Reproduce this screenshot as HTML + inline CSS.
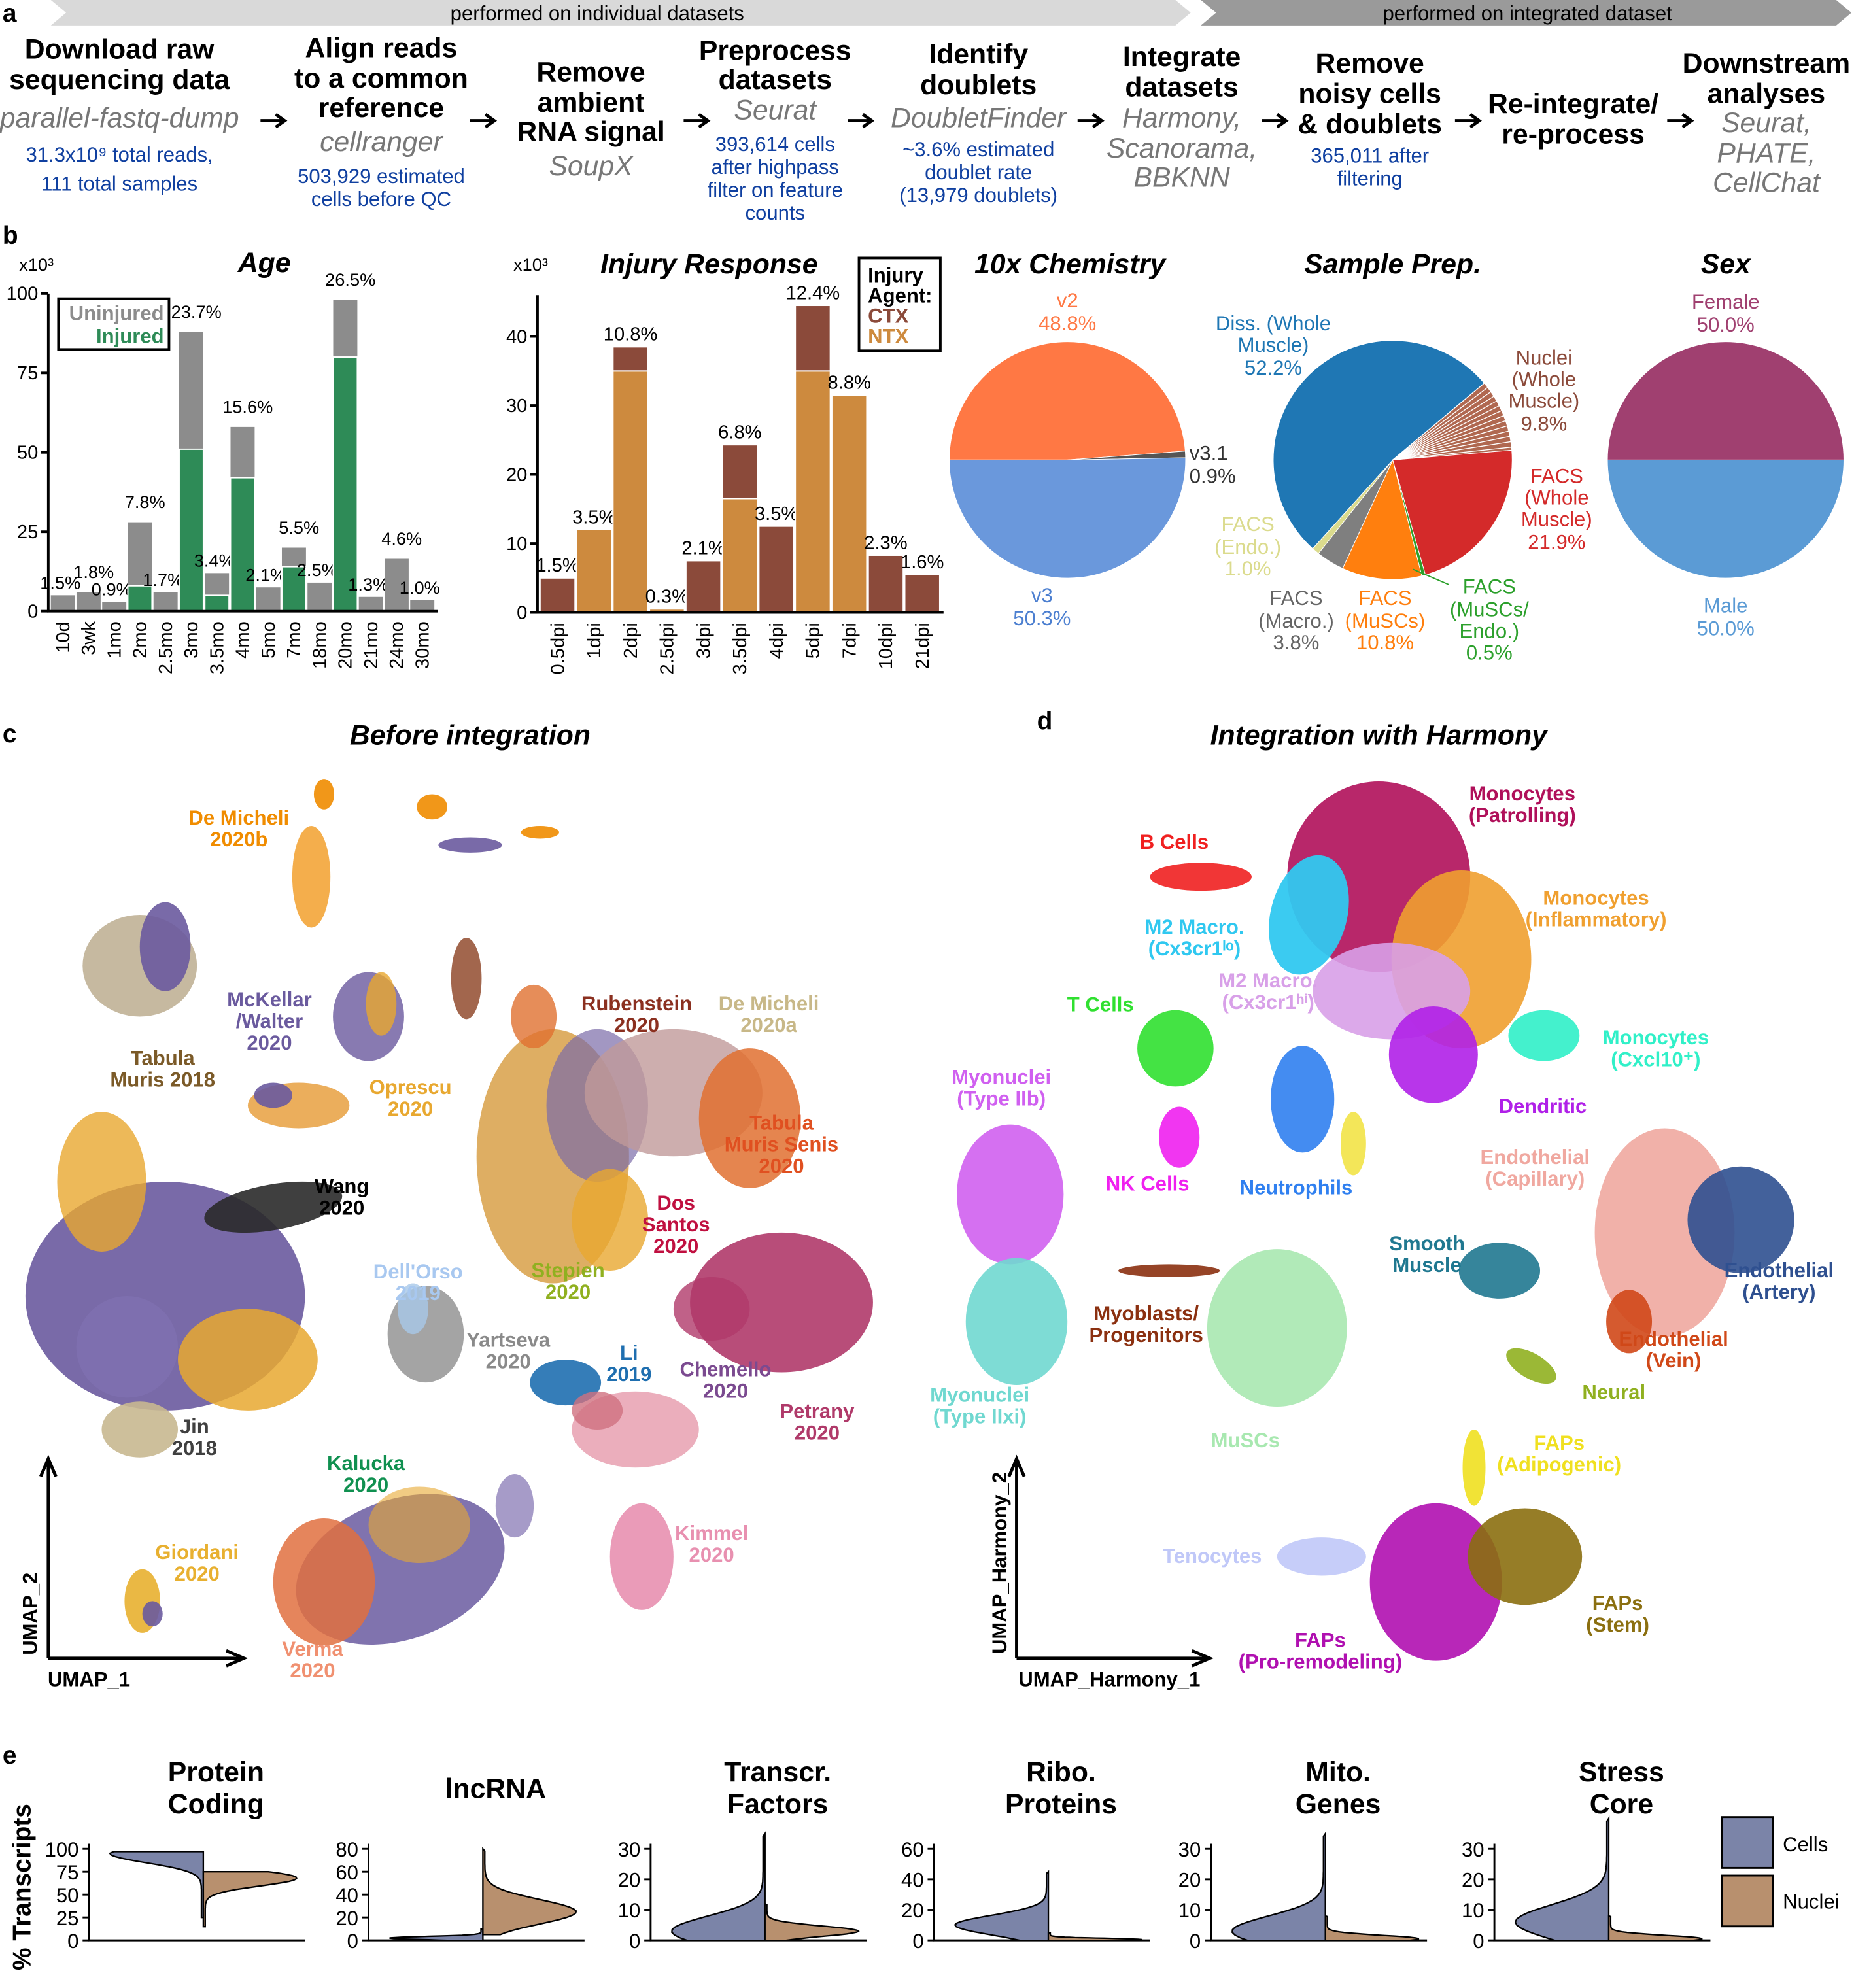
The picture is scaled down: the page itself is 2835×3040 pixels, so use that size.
<!DOCTYPE html>
<html><head><meta charset="utf-8"><style>
html,body{margin:0;padding:0;background:#fff}
svg{display:block}
text{font-family:"Liberation Sans",sans-serif}
.b{font-weight:bold}
.st{font-size:22px;font-weight:bold;text-anchor:middle;fill:#000}
.tool{font-size:22px;font-style:italic;text-anchor:middle;fill:#777}
.blu{font-size:16px;text-anchor:middle;fill:#1040A0}
.tt{font-size:22px;font-weight:bold;font-style:italic;text-anchor:middle}
.lab{font-size:16px}
.cl{font-size:16px;font-weight:bold;text-anchor:middle}
.tick{font-size:16px}
</style></head><body>
<svg id="fig" xmlns="http://www.w3.org/2000/svg" width="2835" height="3040" viewBox="0 0 1459 1564.5" preserveAspectRatio="none">
<g>
<text x="2" y="17" class="b" font-size="20">a</text>
<polygon points="40,0 925,0 937,10 925,20 40,20 52,10" fill="#d9d9d9"/>
<text x="470" y="16" font-size="16" text-anchor="middle">performed on individual datasets</text>
<polygon points="945,0 1445,0 1457,10 1445,20 945,20 957,10" fill="#9a9a9a"/>
<text x="1202" y="16" font-size="16" text-anchor="middle">performed on integrated dataset</text>
<g>
<text x="94" y="46" class="st">Download raw</text><text x="94" y="70" class="st">sequencing data</text>
<text x="94" y="100" class="tool">parallel-fastq-dump</text>
<text x="94" y="127" class="blu">31.3x10⁹ total reads,</text><text x="94" y="150" class="blu">111 total samples</text></g>
<g>
<text x="300" y="45" class="st">Align reads</text><text x="300" y="69" class="st">to a common</text><text x="300" y="92" class="st">reference</text>
<text x="300" y="119" class="tool">cellranger</text>
<text x="300" y="144" class="blu">503,929 estimated</text><text x="300" y="162" class="blu">cells before QC</text></g>
<g>
<text x="465" y="64" class="st">Remove</text><text x="465" y="88" class="st">ambient</text><text x="465" y="111" class="st">RNA signal</text>
<text x="465" y="138" class="tool">SoupX</text></g>
<g>
<text x="610" y="47" class="st">Preprocess</text><text x="610" y="70" class="st">datasets</text>
<text x="610" y="94" class="tool">Seurat</text>
<text x="610" y="119" class="blu">393,614 cells</text><text x="610" y="137" class="blu">after highpass</text><text x="610" y="155" class="blu">filter on feature</text><text x="610" y="173" class="blu">counts</text></g>
<g>
<text x="770" y="50" class="st">Identify</text><text x="770" y="74" class="st">doublets</text>
<text x="770" y="100" class="tool">DoubletFinder</text>
<text x="770" y="123" class="blu">~3.6% estimated</text><text x="770" y="141" class="blu">doublet rate</text><text x="770" y="159" class="blu">(13,979 doublets)</text></g>
<g>
<text x="930" y="52" class="st">Integrate</text><text x="930" y="76" class="st">datasets</text>
<text x="930" y="100" class="tool">Harmony,</text><text x="930" y="124" class="tool">Scanorama,</text><text x="930" y="147" class="tool">BBKNN</text></g>
<g>
<text x="1078" y="57" class="st">Remove</text><text x="1078" y="81" class="st">noisy cells</text><text x="1078" y="105" class="st">&amp; doublets</text>
<text x="1078" y="128" class="blu">365,011 after</text><text x="1078" y="146" class="blu">filtering</text></g>
<g>
<text x="1238" y="89" class="st">Re-integrate/</text><text x="1238" y="113" class="st">re-process</text></g>
<g>
<text x="1390" y="57" class="st">Downstream</text><text x="1390" y="81" class="st">analyses</text>
<text x="1390" y="104" class="tool">Seurat,</text><text x="1390" y="128" class="tool">PHATE,</text><text x="1390" y="151" class="tool">CellChat</text></g>
<g id="arrows"></g>
</g>

<g>
<text x="2" y="192" class="b" font-size="20">b</text>
<g id="age">
<text x="208" y="214" class="tt">Age</text>
<text x="15" y="213" font-size="14">x10³</text>
</g>
<g id="inj">
<text x="558" y="215" class="tt">Injury Response</text>
<text x="404" y="213" font-size="14">x10³</text>
</g>
<g id="pies">
<text x="842" y="215" class="tt">10x Chemistry</text>
<text x="1096" y="215" class="tt">Sample Prep.</text>
<text x="1358" y="215" class="tt">Sex</text>
</g>
</g>

<g>
<text x="2" y="584" class="b" font-size="20">c</text>
<text x="370" y="586" class="tt">Before integration</text>
<g id="umapc"></g>
<path d="M38,1305 V1150 M32,1162 L38,1148 L44,1162 M38,1305 H190 M178,1299 L192,1305 L178,1311" stroke="#000" stroke-width="2.5" fill="none"/>
<text x="70" y="1327" class="cl" fill="#000">UMAP_1</text>
<text transform="translate(29,1270) rotate(-90)" class="cl" fill="#000">UMAP_2</text>
</g>

<g>
<text x="816" y="574" class="b" font-size="20">d</text>
<text x="1085" y="586" class="tt">Integration with Harmony</text>
<g id="umapd"></g>
<path d="M800,1305 V1150 M794,1162 L800,1148 L806,1162 M800,1305 H950 M938,1299 L952,1305 L938,1311" stroke="#000" stroke-width="2.5" fill="none"/>
<text x="873" y="1327" class="cl" fill="#000">UMAP_Harmony_1</text>
<text transform="translate(792,1230) rotate(-90)" class="cl" fill="#000" text-anchor="middle">UMAP_Harmony_2</text>
</g>

<g>
<text x="2" y="1388" class="b" font-size="20">e</text>
<text transform="translate(24,1485) rotate(-90)" font-size="20" font-weight="bold" text-anchor="middle">% Transcripts</text>
<g id="viol"></g>
<rect x="1355" y="1430" width="40" height="40" fill="#7B84A8" stroke="#000" stroke-width="1.5"/>
<rect x="1355" y="1476" width="40" height="40" fill="#B8906E" stroke="#000" stroke-width="1.5"/>
<text x="1403" y="1457" font-size="16">Cells</text>
<text x="1403" y="1502" font-size="16">Nuclei</text>
</g>
</svg>
<script>
const NS="http://www.w3.org/2000/svg";
function mk(tag,attrs,parent,txt){const e=document.createElementNS(NS,tag);for(const k in attrs)e.setAttribute(k,attrs[k]);if(txt!==undefined)e.textContent=txt;parent.appendChild(e);return e;}

const arrowX=[205,370,538,667,848,993,1145,1312];
const ag=document.getElementById('arrows');
arrowX.forEach(x=>{const p=mk('path',{d:`M${x},95 H${x+18} M${x+12},90 L${x+19},95 L${x+12},100`,stroke:'#000','stroke-width':2.5,fill:'none'},ag);

});

const ageCats=["10d","3wk","1mo","2mo","2.5mo","3mo","3.5mo","4mo","5mo","7mo","18mo","20mo","21mo","24mo","30mo"];
const ageTotal=[5,6,3,28,6,88,12,58,7.5,20,9,98,4.5,16.5,3.5];
const ageInjured=[0,0,0,8,0,51,5,42,0,14,0,80,0,0,0];
const agePct=["1.5%","1.8%","0.9%","7.8%","1.7%","23.7%","3.4%","15.6%","2.1%","5.5%","2.5%","26.5%","1.3%","4.6%","1.0%"];
const ageTicks=[0,25,50,75,100];
(function(){
 const g=document.getElementById('age');
 const y0=481,k=2.5,x0=40,step=20.2,bw=19;
 const Y=v=>y0-v*k, X=i=>x0+i*step;
 ageCats.forEach((c,i)=>{
  const r=mk('rect',{x:X(i),y:Y(ageTotal[i]),width:bw,height:ageTotal[i]*k,fill:'#8c8c8c'},g);
  
  
  if(ageInjured[i]>0){const r2=mk('rect',{x:X(i),y:Y(ageInjured[i]),width:bw,height:ageInjured[i]*k,fill:'#2e8b57',stroke:'#fff','stroke-width':1},g);
  
  }
  const t=mk('text',{x:X(i)+bw/2+(i%2?4:-2),y:Y(ageTotal[i])-5-(i%2?6:0),'text-anchor':'middle','font-size':14},g,agePct[i]);
  
  
  const tl=mk('text',{transform:`translate(${X(i)+bw/2+5},${y0+8}) rotate(-90)`,'text-anchor':'end','font-size':15},g,c);
  
  
 });
 mk('path',{d:`M38,${Y(100)} V${y0} H${X(ageCats.length-1)+bw+3}`,stroke:'#000','stroke-width':2,fill:'none'},g);
 ageTicks.forEach(v=>{mk('path',{d:`M32,${Y(v)} H38`,stroke:'#000','stroke-width':2},g);
  const t=mk('text',{x:30,y:Y(v)+5,'text-anchor':'end','font-size':15},g,String(v));
  
  });
 const lg=mk('g',{},g);
 mk('rect',{x:46,y:235,width:87,height:40,fill:'#fff',stroke:'#000','stroke-width':2},lg);
 mk('text',{x:129,y:252,'text-anchor':'end','font-size':16,'font-weight':'bold',fill:'#8c8c8c'},lg,'Uninjured');
 mk('text',{x:129,y:270,'text-anchor':'end','font-size':16,'font-weight':'bold',fill:'#2e8b57'},lg,'Injured');
})();

const injCats=["0.5dpi","1dpi","2dpi","2.5dpi","3dpi","3.5dpi","4dpi","5dpi","7dpi","10dpi","21dpi"];
const injNTX=[0,12,35,0.5,0,16.5,0,35,31.5,0,0];
const injCTX=[5,0,3.5,0,7.5,7.8,12.5,9.5,0,8.3,5.5];
const injPct=["1.5%","3.5%","10.8%","0.3%","2.1%","6.8%","3.5%","12.4%","8.8%","2.3%","1.6%"];
const injTicks=[0,10,20,30,40];
(function(){
 const g=document.getElementById('inj');
 const y0=482,k=5.43,x0=425,step=28.7,bw=27.5;
 const Y=v=>y0-v*k,X=i=>x0+i*step;
 injCats.forEach((c,i)=>{
  const a=injNTX[i],b=injCTX[i];
  if(a>0){const r=mk('rect',{x:X(i),y:Y(a),width:bw,height:a*k,fill:'#CD8A3E',stroke:'#fff','stroke-width':1},g);
   
   }
  if(b>0){const r=mk('rect',{x:X(i),y:Y(a+b),width:bw,height:b*k,fill:'#8B4A3A',stroke:'#fff','stroke-width':1},g);
   
   }
  const t=mk('text',{x:X(i)+bw/2,y:Y(a+b)-5,'text-anchor':'middle','font-size':15},g,injPct[i]);
  
  
  const tl=mk('text',{transform:`translate(${X(i)+bw/2+5},${y0+8}) rotate(-90)`,'text-anchor':'end','font-size':15},g,c);
  
  
 });
 mk('path',{d:`M423,${Y(46)} V${y0} H${X(injCats.length-1)+bw+3}`,stroke:'#000','stroke-width':2,fill:'none'},g);
 injTicks.forEach(v=>{mk('path',{d:`M417,${Y(v)} H423`,stroke:'#000','stroke-width':2},g);
  const t=mk('text',{x:415,y:Y(v)+5,'text-anchor':'end','font-size':15},g,String(v));
  
  });
 const lg=mk('g',{},g);
 mk('rect',{x:676,y:203,width:64,height:73,fill:'#fff',stroke:'#000','stroke-width':2},lg);
 mk('text',{x:683,y:222,'font-size':16,'font-weight':'bold'},lg,'Injury');
 mk('text',{x:683,y:238,'font-size':16,'font-weight':'bold'},lg,'Agent:');
 mk('text',{x:683,y:254,'font-size':16,'font-weight':'bold',fill:'#8B4A3A'},lg,'CTX');
 mk('text',{x:683,y:270,'font-size':16,'font-weight':'bold',fill:'#CD8A3E'},lg,'NTX');
})();

const chemLabels=["v2","v3.1","v3"];
const chemVals=[48.8,0.9,50.3];
const prepLabels=["Nuclei","FACS Whole","FACS MuSCs/Endo","FACS MuSCs","FACS Macro","FACS Endo","Diss Whole"];
const prepVals=[9.8,21.9,0.5,10.8,3.8,1.0,52.2];
const sexLabels=["Male","Female"];
const sexVals=[50.0,50.0];
(function(){
 const g=document.getElementById('pies');
 function pie(cx,cy,r,vals,start,colors,names){
  let a=start;
  vals.forEach((v,i)=>{
   const a2=a+v/100*360;
   const r1=a*Math.PI/180,r2=a2*Math.PI/180;
   const large=(a2-a)>180?1:0;
   const d=`M${cx},${cy} L${cx+r*Math.cos(r1)},${cy+r*Math.sin(r1)} A${r},${r} 0 ${large} 1 ${cx+r*Math.cos(r2)},${cy+r*Math.sin(r2)} Z`;
   const p=mk('path',{d:d,fill:colors[i],stroke:'#fff','stroke-width':0.5},g);
   
   
   a=a2;
  });
 }
 pie(840,362,93,chemVals,180,['#FF7844','#555','#6A98DC'],chemLabels);
 pie(1096,362,94,prepVals,-40,['#B06850','#D42A2A','#2CA02C','#FF7F0E','#7F7F7F','#DBDB8D','#1F77B4'],prepLabels);
 pie(1358,362,93,sexVals,0,['#5B9BD5','#A04070'],sexLabels);
 for(let i=0;i<14;i++){const a=(-40+i*2.6)*Math.PI/180;mk('path',{d:`M1096,362 L${1096+94*Math.cos(a)},${362+94*Math.sin(a)}`,stroke:'#fff','stroke-width':0.7},g);}
 const L=[
  [840,242,'v2','#FF7844','middle'],[840,260,'48.8%','#FF7844','middle'],
  [936,362,'v3.1','#333','start'],[936,380,'0.9%','#333','start'],
  [820,474,'v3','#4C7FD0','middle'],[820,492,'50.3%','#4C7FD0','middle'],
  [1002,260,'Diss. (Whole','#1F77B4','middle'],[1002,277,'Muscle)','#1F77B4','middle'],[1002,295,'52.2%','#1F77B4','middle'],
  [1215,287,'Nuclei','#8B4A3A','middle'],[1215,304,'(Whole','#8B4A3A','middle'],[1215,321,'Muscle)','#8B4A3A','middle'],[1215,339,'9.8%','#8B4A3A','middle'],
  [1225,380,'FACS','#D42A2A','middle'],[1225,397,'(Whole','#D42A2A','middle'],[1225,414,'Muscle)','#D42A2A','middle'],[1225,432,'21.9%','#D42A2A','middle'],
  [982,418,'FACS','#DBDB8D','middle'],[982,436,'(Endo.)','#DBDB8D','middle'],[982,453,'1.0%','#DBDB8D','middle'],
  [1020,476,'FACS','#666','middle'],[1020,494,'(Macro.)','#666','middle'],[1020,511,'3.8%','#666','middle'],
  [1090,476,'FACS','#FF7F0E','middle'],[1090,494,'(MuSCs)','#FF7F0E','middle'],[1090,511,'10.8%','#FF7F0E','middle'],
  [1172,467,'FACS','#2CA02C','middle'],[1172,485,'(MuSCs/','#2CA02C','middle'],[1172,502,'Endo.)','#2CA02C','middle'],[1172,519,'0.5%','#2CA02C','middle'],
  [1358,243,'Female','#A04070','middle'],[1358,261,'50.0%','#A04070','middle'],
  [1358,482,'Male','#5B9BD5','middle'],[1358,500,'50.0%','#5B9BD5','middle']];
 L.forEach(l=>{const t=mk('text',{x:l[0],y:l[1],fill:l[3],'text-anchor':l[4],'font-size':16},g,l[2]);
  
  });
 mk('path',{d:'M1112,448 L1140,460',stroke:'#2CA02C','stroke-width':1},g);
})();

function blobs(id,list,labels){
 const g=document.getElementById(id);
 list.forEach(b=>{const e=mk('ellipse',{cx:b[0],cy:b[1],rx:b[2],ry:b[3],fill:b[4],opacity:b[5]||0.9,transform:`rotate(${b[6]||0} ${b[0]} ${b[1]})`},g);
  
  });
 labels.forEach(l=>{const lines=l[2].split('|');lines.forEach((s,i)=>{const t=mk('text',{x:l[0],y:l[1]+i*17,fill:l[3],class:'cl'},g,s);
  
  });});
}
blobs('umapc',[
 [130,1020,110,90,'#6A5A9E'],[195,1070,55,40,'#E8A830',0.85],[80,930,35,55,'#E8A830',0.8],[215,950,55,18,'#2a2a2a',0.9,-10],[100,1060,40,40,'#8070B0',0.8],[110,1125,30,22,'#C8B890'],
 [110,760,45,40,'#B8A888',0.8],[130,745,20,35,'#6A5A9E',0.9],[290,800,28,35,'#7B6BA8'],[300,790,12,25,'#E8A830',0.8],[235,870,40,18,'#E8A040',0.85],[215,862,15,10,'#6A5A9E'],
 [367,770,12,32,'#8B4020',0.8],[255,625,8,12,'#F08C00'],[340,635,12,10,'#F08C00'],[425,655,15,5,'#F08C00'],[370,665,25,6,'#6A5A9E'],[245,690,15,40,'#F08C00',0.7],
 [435,910,60,100,'#D8A048',0.85],[470,870,40,60,'#7B6BA8',0.7],[530,860,70,50,'#C09A9A',0.8],[590,880,40,55,'#E07030',0.85],[420,800,18,25,'#E07030',0.8],[480,960,30,40,'#E8A830',0.8],
 [615,1025,72,55,'#B03A6A',0.9],[560,1030,30,25,'#B03A6A',0.8],[335,1050,30,38,'#9A9A9A'],[325,1030,12,20,'#A8C8E8',0.8],
 [445,1088,28,18,'#1F6FB0'],[500,1125,50,30,'#E8A0B0',0.85],[505,1225,25,42,'#E890B0'],[470,1110,20,15,'#D07080',0.8],
 [315,1235,85,55,'#6A5AA0',0.85,-20],[255,1245,40,50,'#E07040',0.85],[330,1200,40,30,'#E8A830',0.6],[405,1185,15,25,'#8070B0',0.7],
 [112,1260,14,25,'#E8B030'],[120,1270,8,10,'#6A5A9E']
],[
 [188,649,'De Micheli|2020b','#F08C00'],[212,792,'McKellar|/Walter|2020','#6A5A9E'],[128,838,'Tabula|Muris 2018','#7B5A28'],[323,861,'Oprescu|2020','#E8A830'],
 [501,795,'Rubenstein|2020','#8B3020'],[605,795,'De Micheli|2020a','#C8B888'],[615,889,'Tabula|Muris Senis|2020','#E05020'],[269,939,'Wang|2020','#000'],
 [532,952,'Dos|Santos|2020','#C01040'],[329,1006,"Dell'Orso|2019",'#A8C8F0'],[447,1005,'Stepien|2020','#90B020'],[400,1060,'Yartseva|2020','#8A8A8A'],
 [495,1070,'Li|2019','#1F6FB0'],[571,1083,'Chemello|2020','#7B4A90'],[643,1116,'Petrany|2020','#B03A6A'],[153,1128,'Jin|2018','#404040'],
 [288,1157,'Kalucka|2020','#109050'],[560,1212,'Kimmel|2020','#E890B0'],[155,1227,'Giordani|2020','#E8B030'],[246,1303,'Verma|2020','#F09070']
]);
blobs('umapd',[
 [1085,690,72,75,'#B0105A'],[1150,755,55,70,'#F0A030'],[1030,720,30,48,'#30C8F0',0.95,15],[1095,780,62,38,'#D8A0E8'],[1128,830,35,38,'#B020E8'],[1215,815,28,20,'#30F0C8'],
 [945,690,40,11,'#F02020'],[925,825,30,30,'#30E030'],[928,895,16,24,'#F020F0'],[1025,865,25,42,'#3080F0'],[1065,900,10,25,'#F0E030',0.8],
 [795,940,42,55,'#D060F0'],[800,1040,40,50,'#70D8D0'],[1005,1045,55,62,'#A8E8B0'],[920,1000,40,5,'#8B3010'],
 [1310,970,55,82,'#F0A8A0'],[1370,960,42,42,'#2F5090'],[1282,1040,18,25,'#D04818'],[1180,1000,32,22,'#207890'],[1205,1075,22,10,'#90B020',0.9,30],
 [1160,1155,9,30,'#F0E020'],[1130,1245,52,62,'#B010B0'],[1200,1225,45,38,'#8B6F10'],[1040,1225,35,15,'#C0C8F8']
],[
 [1198,630,'Monocytes|(Patrolling)','#B0105A'],[924,668,'B Cells','#F02020'],[1256,712,'Monocytes|(Inflammatory)','#F0A030'],[940,735,'M2 Macro.|(Cx3cr1ˡᵒ)','#30C8F0'],
 [998,777,'M2 Macro.|(Cx3cr1ʰⁱ)','#D8A0E8'],[866,796,'T Cells','#30E030'],[1303,822,'Monocytes|(Cxcl10⁺)','#30F0C8'],[788,853,'Myonuclei|(Type IIb)','#D060F0'],
 [1214,876,'Dendritic','#B020E8'],[903,937,'NK Cells','#F020F0'],[1020,940,'Neutrophils','#3080F0'],[1208,916,'Endothelial|(Capillary)','#F0A8A0'],
 [1123,984,'Smooth|Muscle','#207890'],[1400,1005,'Endothelial|(Artery)','#2F5090'],[902,1039,'Myoblasts/|Progenitors','#8B3010'],[1317,1059,'Endothelial|(Vein)','#D04818'],
 [1270,1101,'Neural','#90B020'],[771,1103,'Myonuclei|(Type IIxi)','#70D8D0'],[980,1139,'MuSCs','#A8E8B0'],[1227,1141,'FAPs|(Adipogenic)','#F0E020'],
 [954,1230,'Tenocytes','#C0C8F8'],[1273,1267,'FAPs|(Stem)','#8B6F10'],[1039,1296,'FAPs|(Pro-remodeling)','#B010B0']
]);

const violTitles=[["Protein","Coding"],["lncRNA"],["Transcr.","Factors"],["Ribo.","Proteins"],["Mito.","Genes"],["Stress","Core"]];
const violMax=[100,80,30,60,30,30];
const violTicks=[[0,25,50,75,100],[0,20,40,60,80],[0,10,20,30],[0,20,40,60],[0,10,20,30],[0,10,20,30]];
const cellPeak=[95,2,3,10,3,6];
const cellTop=[97,10,35,45,35,40];
const cellMin=[25,0,0,0,0,0];
const nucPeak=[68,25,3,0.5,0.5,0.5];
const nucTop=[75,80,12,5,8,8];
const nucMin=[15,5,0,0,0,0];
(function(){
 const g=document.getElementById('viol');
 const axX=[70,290,512,735,953,1176], yb=1527,yt=1455,W=170;
 violTitles.forEach((tt,i)=>{
  const Y=v=>yb-(v/violMax[i])*(yb-yt);
  const cx=axX[i]+90;
  tt.forEach((s,j)=>{const t=mk('text',{x:axX[i]+100,y:(tt.length==1?1415:1402+j*25),'text-anchor':'middle','font-size':22,'font-weight':'bold'},g,s);
   
   });
  mk('path',{d:`M${axX[i]},${yt-4} V${yb} H${axX[i]+W}`,stroke:'#000','stroke-width':1.5,fill:'none'},g);
  violTicks[i].forEach(v=>{mk('path',{d:`M${axX[i]-5},${Y(v)} H${axX[i]}`,stroke:'#000','stroke-width':1.5},g);
   const t=mk('text',{x:axX[i]-8,y:Y(v)+6,'text-anchor':'end','font-size':16},g,String(v));
   
   });
  function side(min,peak,top,dir,col,name){
   const pts=[];const N=40;const s=Math.max((top-min)/5,1.2);
   for(let k=0;k<=N;k++){const v=min+(top-min)*k/N;let w=Math.exp(-Math.pow((v-peak)/s,2))*72+1.5*(v<top?1:0);
    pts.push([cx+dir*w,Y(v)]);}
   let d=`M${cx},${Y(min)} `+pts.map(p=>`L${p[0].toFixed(1)},${p[1].toFixed(1)}`).join(' ')+` L${cx},${Y(top)} Z`;
   const p=mk('path',{d:d,fill:col,stroke:'#000','stroke-width':1.2},g);
   
   
  }
  side(cellMin[i],cellPeak[i],cellTop[i],-1,'#7B84A8','violin-cells');
  side(nucMin[i],nucPeak[i],nucTop[i],1,'#B8906E','violin-nuclei');
 });
})();
</script>
</body></html>
